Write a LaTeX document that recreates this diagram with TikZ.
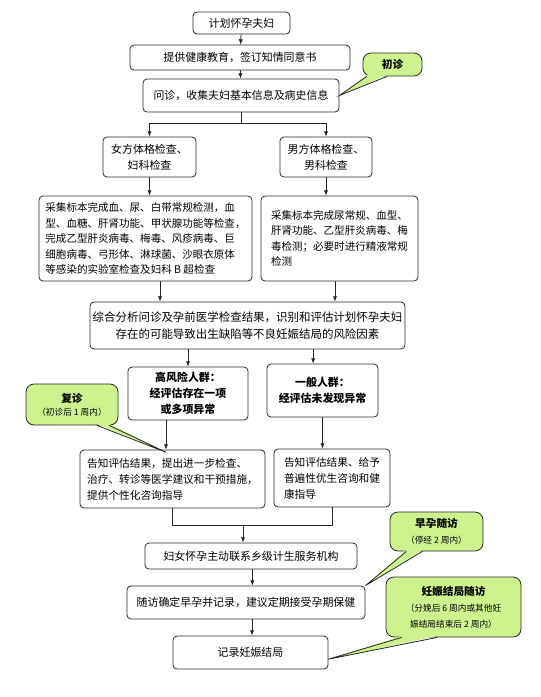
\documentclass[tikz,border=0pt]{standalone}
\usepackage{fontspec}
\setmainfont{Noto Sans CJK SC}
\usepackage{tikz}
\usetikzlibrary{arrows.meta,calc}
\usepackage{xcolor}
\definecolor{NoteGreen}{RGB}{206,242,142}
\definecolor{LineGray}{RGB}{40,40,40}

\begin{document}
\begin{tikzpicture}[x=0.75pt,y=-0.75pt,
  flow/.style={draw=LineGray,fill=white,rounded corners=3pt,line width=0.6pt,
               inner sep=2pt,align=center,font=\fontsize{8.2}{12}\selectfont},
  note/.style={draw=LineGray,fill=NoteGreen,rounded corners=6pt,line width=0.6pt,
               inner sep=1pt,align=center,font=\fontsize{8}{11}\selectfont\bfseries},
  arr/.style={draw=LineGray,line width=0.6pt,-{Latex[length=4pt,width=3.2pt]}},
  link/.style={draw=LineGray,line width=0.6pt},
]
\useasboundingbox (0,0) rectangle (541,697);

% main column
\node[flow,minimum width=72.75pt,minimum height=16.5pt] (plan) at (241.5,23) {计划怀孕夫妇};
\node[flow,minimum width=165pt,minimum height=18.75pt] (edu) at (240,57.5) {提供健康教育，签订知情同意书};
\node[flow,minimum width=147pt,minimum height=24.75pt] (inq) at (241,95.5) {问诊，收集夫妇基本信息及病史信息};
\node[flow,minimum width=69.75pt,minimum height=30pt] (fexam) at (149.5,157) {女方体格检查、\\妇科检查};
\node[flow,minimum width=69pt,minimum height=30pt] (mexam) at (326,157) {男方体格检查、\\男科检查};
\node[flow,align=left,minimum width=159.75pt,minimum height=63.75pt,font=\fontsize{7.9}{11.6}\selectfont] (ftest) at (145.5,238.5)
  {采集标本完成血、尿、白带常规检测，血\\型、血糖、肝肾功能、甲状腺功能等检查，\\完成乙型肝炎病毒、梅毒、风疹病毒、巨\\细胞病毒、弓形体、淋球菌、沙眼衣原体\\等感染的实验室检查及妇科 B 超检查};
\node[flow,align=left,minimum width=117.75pt,minimum height=63.75pt,font=\fontsize{7.9}{11.6}\selectfont] (mtest) at (339.5,238.5)
  {采集标本完成尿常规、血型、\\肝肾功能、乙型肝炎病毒、梅\\毒检测；必要时进行精液常规\\检测};
\node[flow,minimum width=231.75pt,minimum height=35.25pt,font=\fontsize{8.6}{12.75}\selectfont] (assess) at (247.5,325.5)
  {综合分析问诊及孕前医学检查结果，识别和评估计划怀孕夫妇\\存在的可能导致出生缺陷等不良妊娠结局的风险因素};
\node[flow,minimum width=90pt,minimum height=39.75pt,font=\fontsize{8.2}{12}\selectfont\bfseries] (high) at (188,393.5)
  {高风险人群：\\经评估存在一项\\或多项异常};
\node[flow,minimum width=83.25pt,minimum height=39.75pt,font=\fontsize{8.2}{12}\selectfont\bfseries] (gen) at (322.5,390.5)
  {一般人群：\\经评估未发现异常};
\node[flow,align=left,minimum width=138.75pt,minimum height=43.5pt,font=\fontsize{8}{12}\selectfont] (advH) at (172.5,479)
  {告知评估结果，提出进一步检查、\\治疗、转诊等医学建议和干预措施，\\提供个性化咨询指导};
\node[flow,align=left,minimum width=87pt,minimum height=43.5pt,font=\fontsize{8}{12}\selectfont] (advG) at (332,478)
  {告知评估结果、给予\\普遍性优生咨询和健\\康指导};
\node[flow,minimum width=159pt,minimum height=19.5pt] (contact) at (251,556) {妇女怀孕主动联系乡级计生服务机构};
\node[flow,minimum width=178.5pt,minimum height=24.75pt] (follow) at (246,602.5) {随访确定早孕并记录，建议定期接受孕期保健};
\node[flow,minimum width=116.25pt,minimum height=24.75pt] (record) at (250.5,652.5) {记录妊娠结局};

% connectors
\draw[arr] (plan) -- (edu);
\draw[arr] (edu) -- (inq);
\coordinate (split) at ($(inq.south)+(0,11)$);
\draw[link] (inq.south) -- (split);
\draw[link] (fexam.north |- split) -- (mexam.north |- split);
\draw[arr] (fexam.north |- split) -- (fexam.north);
\draw[arr] (mexam.north |- split) -- (mexam.north);
\draw[arr] (fexam.south) -- (fexam.south |- ftest.north);
\draw[arr] (mexam.south) -- (mexam.south |- mtest.north);
\coordinate (fout) at ([xshift=10.9pt]ftest.south);
\coordinate (mout) at ([xshift=-3.4pt]mtest.south);
\draw[arr] (fout) -- (fout |- assess.north);
\draw[arr] (mout) -- (mout |- assess.north);
\coordinate (gin) at ([xshift=-7pt]gen.north);
\draw[arr] (high.north |- assess.south) -- (high.north);
\draw[arr] (gin |- assess.south) -- (gin);
\coordinate (hdrop) at ([xshift=-16.5pt]high.south);
\draw[arr] (hdrop) -- (hdrop |- advH.north);
\draw[arr] (gen.south) -- (gen.south |- advG.north);
\coordinate (merge) at (243,525);
\draw[link] (advH.south) -- (advH.south |- merge) -- (advG.south |- merge) -- (advG.south);
\draw[arr] (merge) -- (merge |- contact.north);
\coordinate (cdrop) at ([xshift=1pt]contact.south);
\coordinate (fdrop) at ([xshift=4.5pt]follow.south);
\draw[arr] (cdrop) -- (cdrop |- follow.north);
\draw[arr] (fdrop) -- (fdrop |- record.north);

% callouts
\node[note,minimum width=44.25pt,minimum height=17.25pt] (first) at (392.5,64.5) {初诊};
\node[note,minimum width=69pt,minimum height=30.75pt] (second) at (72,404.5)
  {复诊\\[-1pt]\fontsize{6.5}{9}\selectfont\mdseries （初诊后 1 周内）};
\node[note,minimum width=69.75pt,minimum height=29.25pt] (early) at (436.5,531.5)
  {早孕随访\\[1pt]\fontsize{6.5}{9}\selectfont\mdseries （停经 2 周内）};
\node[note,minimum width=101.25pt,minimum height=45pt] (outcome) at (453.5,607)
  {妊娠结局随访\\[1pt]\fontsize{6.5}{11}\selectfont\mdseries （分娩后 6 周内或其他妊\\[1pt]
   \fontsize{6.5}{11}\selectfont\mdseries 娠结局结束后 2 周内）};

\coordinate (tipA) at (inq.east);
\coordinate (tipB) at ([yshift=-2pt]hdrop |- advH.north);
\coordinate (tipC) at (follow.north east);
\coordinate (tipD) at ([yshift=-5pt]record.east);
\foreach \c/\a/\b/\t in {first/0.07/0.41/tipA, second/0.77/0.9/tipB,
                         early/0.18/0.35/tipC, outcome/0.12/0.38/tipD}{
  \fill[NoteGreen] ($(\c.south west)!\a!(\c.south east)+(0,-1.5)$) -- (\t)
    -- ($(\c.south west)!\b!(\c.south east)+(0,-1.5)$) -- cycle;
  \draw[link] ($(\c.south west)!\a!(\c.south east)$) -- (\t)
    -- ($(\c.south west)!\b!(\c.south east)$);
}
\end{tikzpicture}
\end{document}
